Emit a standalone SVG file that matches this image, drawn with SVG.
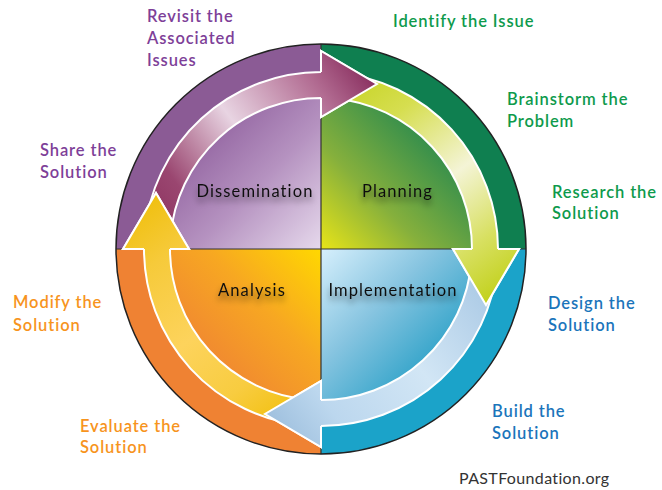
<svg xmlns="http://www.w3.org/2000/svg" width="662" height="490" viewBox="0 0 662 490">
<style>
.lbl{font-family:Lato,"Noto Sans","Liberation Sans",sans-serif;font-size:16.5px;font-weight:600;letter-spacing:0.9px}
.p{fill:#7e3f98}.g{fill:#0e9a4c}.b{fill:#1b75bb}.o{fill:#f7941d}
.in{font-family:Lato,"Noto Sans","Liberation Sans",sans-serif;font-size:16.5px;letter-spacing:1.1px;fill:#111;text-anchor:middle;filter:url(#sh)}
.arr{stroke:#fff;stroke-width:2;stroke-linejoin:miter}
.hs{fill:none;stroke:#fff;stroke-width:2;stroke-linejoin:miter}
.div{stroke:#333;stroke-width:1.2}
</style>
<defs>
<filter id="sh" x="-20%" y="-60%" width="140%" height="260%">
<feGaussianBlur in="SourceAlpha" stdDeviation="3"/>
<feOffset dx="0" dy="5"/>
<feComponentTransfer><feFuncA type="linear" slope="0.5"/></feComponentTransfer>
<feMerge><feMergeNode/><feMergeNode in="SourceGraphic"/></feMerge>
</filter>
<linearGradient id="qD" gradientUnits="userSpaceOnUse" x1="321" y1="249" x2="205" y2="133"><stop offset="0" stop-color="#e6d9ec"/><stop offset="0.55" stop-color="#b592c0"/><stop offset="1" stop-color="#9466a2"/></linearGradient>
<linearGradient id="qP" gradientUnits="userSpaceOnUse" x1="321" y1="249" x2="437" y2="133"><stop offset="0" stop-color="#e8e418"/><stop offset="0.45" stop-color="#86b03c"/><stop offset="1" stop-color="#2a8a4e"/></linearGradient>
<linearGradient id="qI" gradientUnits="userSpaceOnUse" x1="321" y1="249" x2="437" y2="365"><stop offset="0" stop-color="#d6effc"/><stop offset="0.5" stop-color="#86c4e0"/><stop offset="1" stop-color="#2ea2c8"/></linearGradient>
<linearGradient id="qA" gradientUnits="userSpaceOnUse" x1="321" y1="249" x2="205" y2="365"><stop offset="0" stop-color="#ffd800"/><stop offset="0.5" stop-color="#f7a722"/><stop offset="1" stop-color="#f08632"/></linearGradient>
<linearGradient id="gA" gradientUnits="userSpaceOnUse" x1="157" y1="249" x2="377" y2="84"><stop offset="0" stop-color="#8a2f5c"/><stop offset="0.2" stop-color="#9a4670"/><stop offset="0.5" stop-color="#e8d4e2"/><stop offset="0.82" stop-color="#b26c92"/><stop offset="1" stop-color="#8a3060"/></linearGradient>
<linearGradient id="gB" gradientUnits="userSpaceOnUse" x1="321" y1="84" x2="486" y2="305"><stop offset="0" stop-color="#c4d21c"/><stop offset="0.25" stop-color="#d6de50"/><stop offset="0.55" stop-color="#f4f4d6"/><stop offset="0.8" stop-color="#d8e062"/><stop offset="1" stop-color="#c2d11c"/></linearGradient>
<linearGradient id="gC" gradientUnits="userSpaceOnUse" x1="486" y1="249" x2="265" y2="414"><stop offset="0" stop-color="#a3c4e2"/><stop offset="0.45" stop-color="#d2e6f5"/><stop offset="0.8" stop-color="#bcd7ee"/><stop offset="1" stop-color="#9fc0de"/></linearGradient>
<linearGradient id="gD" gradientUnits="userSpaceOnUse" x1="321" y1="414" x2="156" y2="193"><stop offset="0" stop-color="#f0bc00"/><stop offset="0.25" stop-color="#f8cc40"/><stop offset="0.5" stop-color="#fdd35c"/><stop offset="0.8" stop-color="#f6ca3a"/><stop offset="1" stop-color="#f0c010"/></linearGradient>
</defs>

<g id="dissemination">
<path d="M321,249 L116,249 A205,205 0 0 1 321,44 Z" fill="#8b5b95"/>
<path d="M321,249 L157,249 A164,164 0 0 1 321,85 Z" fill="url(#qD)"/>
</g>
<g id="planning">
<path d="M321,249 L321,44 A205,205 0 0 1 526,249 Z" fill="#0f7f50"/>
<path d="M321,249 L321,85 A164,164 0 0 1 485,249 Z" fill="url(#qP)"/>
</g>
<g id="implementation">
<path d="M321,249 L526,249 A205,205 0 0 1 321,454 Z" fill="#1ba3c9"/>
<path d="M321,249 L485,249 A164,164 0 0 1 321,413 Z" fill="url(#qI)"/>
</g>
<g id="analysis">
<path d="M321,249 L321,454 A205,205 0 0 1 116,249 Z" fill="#ef8233"/>
<path d="M321,249 L321,413 A164,164 0 0 1 157,249 Z" fill="url(#qA)"/>
</g>
<g id="frame">
<line class="div" x1="321" y1="44" x2="321" y2="454"/>
<line class="div" x1="116" y1="249" x2="526" y2="249"/>
<circle cx="321" cy="249" r="205" fill="none" stroke="#222" stroke-width="1.5"/>
</g>

<g id="connectors">
<path class="arr" fill="url(#gA)" d="M144.67,233.57 A177,177 0 0 1 321,72 L321,51 L377,84 L321,117 L321,98 A151,151 0 0 0 170.58,235.84 Z"/>
<path class="arr" fill="url(#gB)" d="M336.43,72.67 A177,177 0 0 1 498,249 L519,249 L486,305 L453,249 L472,249 A151,151 0 0 0 334.16,98.58 Z"/>
<path class="arr" fill="url(#gC)" d="M497.33,264.43 A177,177 0 0 1 321,426 L321,447 L265,414 L321,381 L321,400 A151,151 0 0 0 471.42,262.16 Z"/>
<path class="arr" fill="url(#gD)" d="M305.57,425.33 A177,177 0 0 1 144,249 L123,249 L156,193 L189,249 L170,249 A151,151 0 0 0 307.84,399.42 Z"/>
<polygon fill="url(#gA)" points="321,51 377,84 321,117"/>
<path class="hs" d="M321,98 L321,117 L377,84 L321,51 L321,72"/>
<polygon fill="url(#gB)" points="519,249 486,305 453,249"/>
<path class="hs" d="M472,249 L453,249 L486,305 L519,249 L498,249"/>
<polygon fill="url(#gC)" points="321,447 265,414 321,381"/>
<path class="hs" d="M321,400 L321,381 L265,414 L321,447 L321,426"/>
<polygon fill="url(#gD)" points="123,249 156,193 189,249"/>
<path class="hs" d="M170,249 L189,249 L156,193 L123,249 L144,249"/>
</g>

<g id="stage-labels">
<text class="in" x="255" y="197">Dissemination</text>
<text class="in" x="397.5" y="197">Planning</text>
<text class="in" x="252" y="296">Analysis</text>
<text class="in" x="393" y="296">Implementation</text>
</g>

<g id="step-labels" class="lbl">
<text class="p" x="147" y="22">Revisit the</text>
<text class="p" x="147" y="44">Associated</text>
<text class="p" x="147" y="66">Issues</text>
<text class="p" x="40" y="156">Share the</text>
<text class="p" x="40" y="178">Solution</text>
<text class="g" x="393" y="27">Identify the Issue</text>
<text class="g" x="507" y="105">Brainstorm the</text>
<text class="g" x="507" y="127">Problem</text>
<text class="g" x="552" y="198">Research the</text>
<text class="g" x="552" y="219">Solution</text>
<text class="b" x="548" y="309">Design the</text>
<text class="b" x="548" y="331">Solution</text>
<text class="b" x="492" y="417">Build the</text>
<text class="b" x="492" y="439">Solution</text>
<text class="o" x="13" y="308">Modify the</text>
<text class="o" x="13" y="331">Solution</text>
<text class="o" x="80" y="432">Evaluate the</text>
<text class="o" x="80" y="453">Solution</text>
</g>
<text x="459" y="484" font-family="Lato,'Noto Sans','Liberation Sans',sans-serif" font-size="16" letter-spacing="0.35" fill="#333">PASTFoundation.org</text>
</svg>
